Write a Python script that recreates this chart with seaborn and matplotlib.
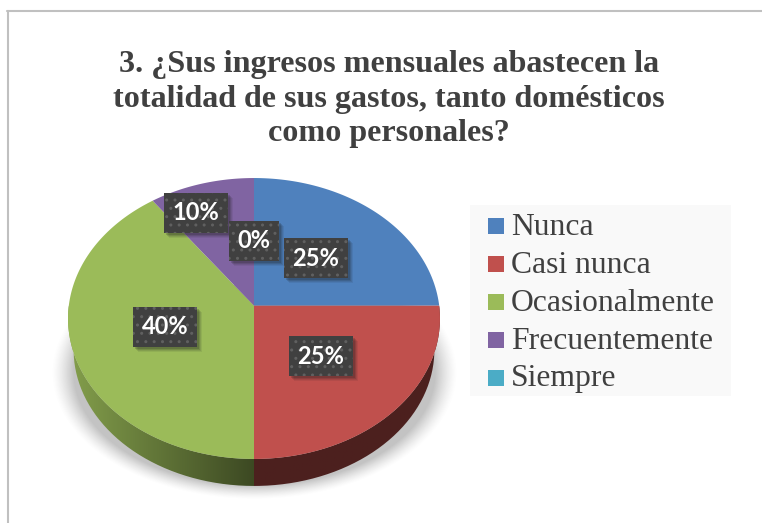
import numpy as np
import matplotlib
matplotlib.use("Agg")
import matplotlib.pyplot as plt
from matplotlib.colors import to_rgb
from matplotlib.legend_handler import HandlerPatch
from matplotlib.patches import PathPatch, Rectangle, Wedge
from matplotlib.path import Path
from matplotlib.transforms import Affine2D, Transform
import seaborn as sns

# --- data ---
categories = ["Nunca", "Casi nunca", "Ocasionalmente", "Frecuentemente", "Siempre"]
values = [25, 25, 40, 10, 0]
colors = ["#4f81bd", "#c0504d", "#9bbb59", "#8064a2", "#4bacc6"]
title = "3. ¿Sus ingresos mensuales abastecen la\ntotalidad de sus gastos, tanto domésticos\ncomo personales?"
label_pos = [(316, 258), (321, 356), (165, 327), (196, 213), (254, 241)]

W, H = 762, 523
CX, CY = 254.0, 305.7
K, A, B = 0.0911, 139.3, 185.2      # perspective of the pie's top face
DEPTH_SCALE, YC_TOP, YC_BOT = 0.97, 318.5, 349.7

sns.set_theme(style="white")
palette = sns.color_palette(colors)
TEXT = "#404040"


def project(pts):
    pts = np.asarray(pts, float)
    d = 1 + K * pts[:, 1]
    return np.column_stack([CX + B * pts[:, 0] / d, CY - A * pts[:, 1] / d])


class Perspective(Transform):
    input_dims = output_dims = 2
    is_separable = False
    has_inverse = False

    def transform_non_affine(self, values):
        return project(values)

    def transform_path_non_affine(self, path):
        polys = path.transformed(Affine2D().scale(2000)).to_polygons(closed_only=True)
        if not polys:
            return Path(project(path.vertices[:1]))
        return Path(project(polys[0] / 2000))


def lower(pts):
    out = pts.copy()
    out[:, 0] = CX + (pts[:, 0] - CX) * DEPTH_SCALE
    out[:, 1] = YC_BOT + (pts[:, 1] - YC_TOP) * DEPTH_SCALE
    return out


def swatch(legend, orig_handle, xdescent, ydescent, width, height, fontsize):
    return Rectangle((-xdescent, -ydescent - 1.0), width, width)


fig = plt.figure(figsize=(W / 100, H / 100), dpi=100, facecolor="white")
ax = fig.add_axes([0, 0, 1, 1])

wedges, _ = ax.pie(values, colors=palette, startangle=90, counterclock=False,
                   radius=1, center=(0, 0), wedgeprops=dict(linewidth=0))
ax.set_aspect("auto")
ax.set_xlim(0, W)
ax.set_ylim(H, 0)
ax.axis("off")

persp = Perspective()
for w in wedges:
    w.set_transform(persp + ax.transData)
    w.set_zorder(5)

# soft ground shadow
yy, xx = np.mgrid[285:505, 40:475]
t = np.hypot((xx - 254) / 203.0, (yy - 372) / 127.0)
shadow = np.zeros(t.shape + (4,))
shadow[..., :3] = 0.35
shadow[..., 3] = 0.36 * np.clip((1.0 - t) / 0.11, 0, 1) ** 1.4
ax.imshow(shadow, extent=(40, 475, 505, 285), origin="upper", aspect="auto",
          zorder=1, interpolation="bilinear")

# side wall below each visible wedge
for w, c in zip(wedges, palette):
    lo, hi = max(w.theta1, -180), min(w.theta2, 0)
    if hi <= lo:
        continue
    th = np.radians(np.linspace(lo, hi, 120))
    top = project(np.column_stack([np.cos(th), np.sin(th)]))
    poly = np.vstack([top, lower(top)[::-1], top[:1]])
    patch = PathPatch(Path(poly), facecolor="none", edgecolor="none", transform=ax.transData)
    ax.add_patch(patch)
    rgb = np.array(to_rgb(c))
    x0, x1 = poly[:, 0].min(), poly[:, 0].max()
    y0, y1 = poly[:, 1].min(), poly[:, 1].max()
    if x1 <= CX + 1:      # left part gets a light-to-dark sweep
        fac = np.linspace(0.85, 0.39, 256)
    else:
        fac = np.full(256, 0.40)
    img = np.tile((fac[:, None] * rgb)[None, :, :], (2, 1, 1))
    im = ax.imshow(img, extent=(x0, x1, y1, y0), origin="upper", aspect="auto",
                   zorder=3, interpolation="bilinear")
    im.set_clip_path(patch)
ax.set_xlim(0, W)
ax.set_ylim(H, 0)

# data labels
label_texts = []
for v, (x, y) in zip(values, label_pos):
    label_texts.append(ax.text(x, y, f"{v}%", color="white", zorder=8, ha="center", va="center",
                               family="Lato", weight="bold", fontsize=17,
                               bbox=dict(boxstyle="square,pad=0.38", facecolor="#404040",
                                         edgecolor="#606060", linewidth=0, hatch="..")))

# soft shadows behind the label boxes, sized from the rendered boxes
fig.canvas.draw()
for txt in label_texts:
    ext = txt.get_bbox_patch().get_window_extent()
    (bx0, by0), (bx1, by1) = ax.transData.inverted().transform(ext.get_points())
    for off, alpha in [(5, 0.08), (4, 0.10), (3, 0.14), (2, 0.18)]:
        ax.add_patch(Rectangle((bx0 + off, min(by0, by1) + off), bx1 - bx0, abs(by1 - by0),
                               facecolor="k", alpha=alpha, edgecolor="none", zorder=7))

# title
ax.text(389, 99, title, ha="center", va="center", color=TEXT, family="Liberation Serif",
        weight="bold", fontsize=23.1, linespacing=1.25, zorder=8)

# legend: background panel, then entries
ax.add_patch(Rectangle((470, 205), 261, 191, facecolor="#f9f9f9", edgecolor="none", zorder=6))
leg = ax.legend(wedges, categories, loc="upper left", bbox_to_anchor=(488, 213),
                bbox_transform=ax.transData, borderaxespad=0, frameon=False,
                prop=dict(family="Liberation Serif", size=22.8),
                labelcolor=TEXT, handlelength=0.5, handleheight=0.5, handletextpad=0.22,
                labelspacing=0.28, borderpad=0,
                handler_map={Wedge: HandlerPatch(patch_func=swatch)})
leg.set_zorder(8)

# chart frame (top and left only)
ax.axhline(11, xmin=7 / W, color="#c0c0c0", lw=1.5, zorder=9)
ax.axvline(7.5, ymax=1 - 11 / H, color="#c0c0c0", lw=1.5, zorder=9)

fig.savefig("out.png", dpi=100, facecolor="white")
